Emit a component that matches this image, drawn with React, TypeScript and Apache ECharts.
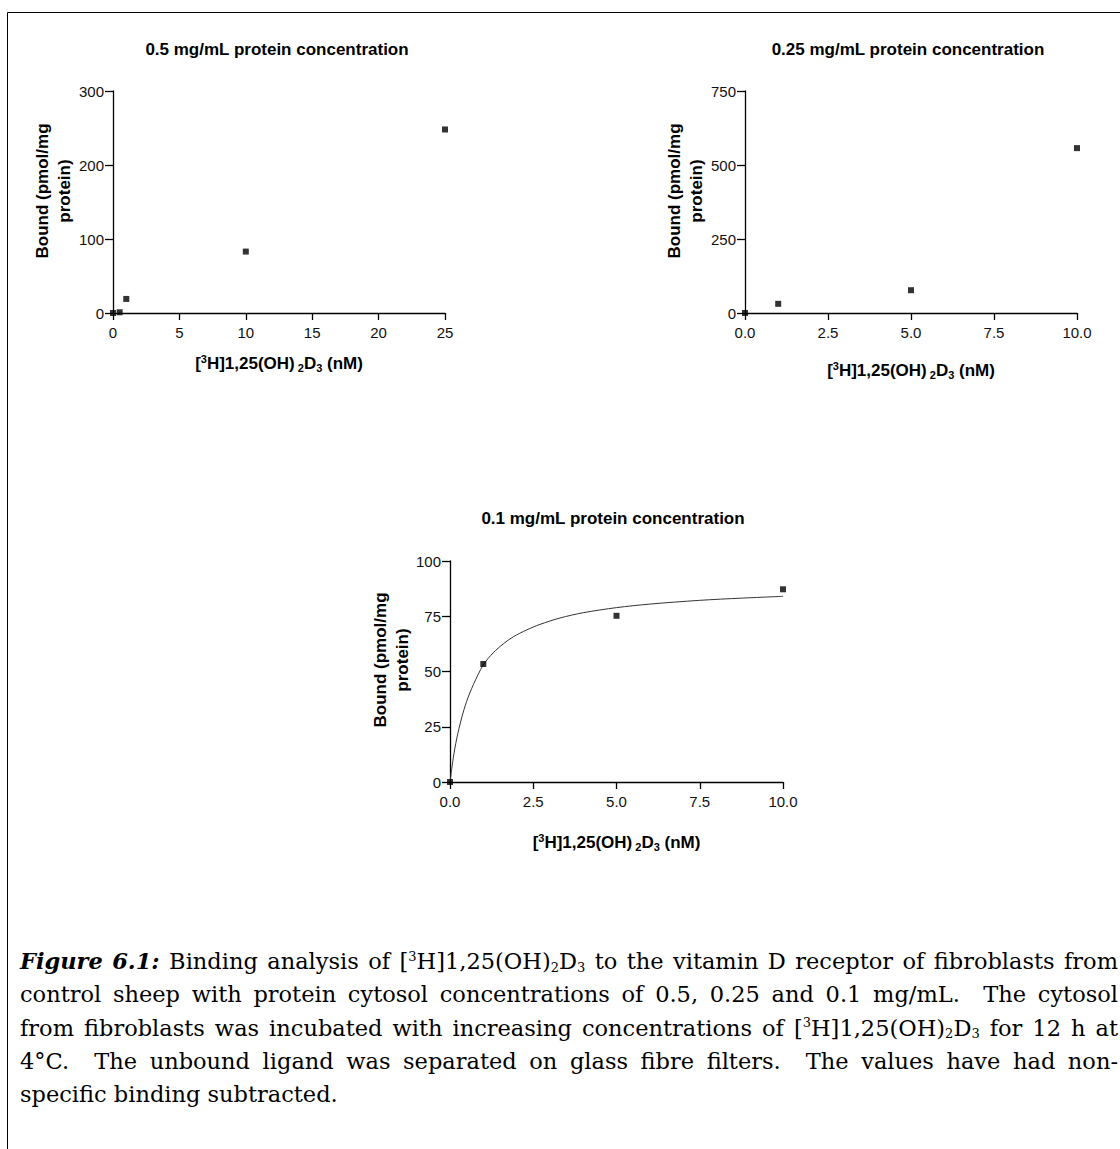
import React, { useEffect, useRef } from 'react';
import * as echarts from 'echarts';

// ---------- data ----------
const TITLES = [
  '0.5 mg/mL protein concentration',
  '0.25 mg/mL protein concentration',
  '0.1 mg/mL protein concentration',
];
const Y_NAME = 'Bound (pmol/mg\nprotein)';
const X_NAME = '[{sup|3}H]1,25(OH){s2|2}D{sub|3} (nM)';

// 0.5 mg/mL
const X_05 = [0, 0.5, 1, 10, 25];
const Y_05 = [0, 1, 19, 83, 248];
const X_TICKS_05 = [0, 5, 10, 15, 20, 25];
const Y_TICKS_05 = [0, 100, 200, 300];

// 0.25 mg/mL
const X_025 = [0, 1, 5, 10];
const Y_025 = [0, 31, 77, 557];
const X_TICKS_025 = [0, 2.5, 5, 7.5, 10];
const Y_TICKS_025 = [0, 250, 500, 750];

// 0.1 mg/mL
const X_01 = [0, 1, 5, 10];
const Y_01 = [0, 53.4, 75.2, 87.2];
const X_TICKS_01 = [0, 2.5, 5, 7.5, 10];
const Y_TICKS_01 = [0, 25, 50, 75, 100];
// fitted curve
const FIT_X_01 = [0, 0.1, 0.2, 0.35, 0.5, 0.7, 1, 1.3, 1.6, 1.9, 2.3, 2.7, 3.3, 4, 5, 6, 7.5, 8.75, 10];
const FIT_Y_01 = [0, 11, 19.5, 29, 36.5, 44, 53, 58.5, 62.5, 65.7, 68.8, 71.3, 74.2, 76.6, 78.9, 80.5, 82.2, 83.2, 84];

const CAPTION = [
  '{bi|Figure} {bi|6.1:} Binding analysis of [{sup|3}H]1,25(OH){sub|2}D{sub|3} to the vitamin D receptor of fibroblasts from',
  'control sheep with protein cytosol concentrations of 0.5, 0.25 and 0.1 mg/mL.  The cytosol',
  'from fibroblasts was incubated with increasing concentrations of [{sup|3}H]1,25(OH){sub|2}D{sub|3} for 12 h at',
  '4°C.  The unbound ligand was separated on glass fibre filters.  The values have had non-',
  'specific binding subtracted.',
];

// ---------- helpers ----------
const SANS = '"Liberation Sans", Arial, sans-serif';
const SERIF = 'DejaVu Serif';
const CAP_SIZE = 22.5;
const CAP_CENTRAL = 0.346;

type RunStyle = { size: number; style: string; weight: string; dy: number };
const RUN_STYLES: Record<string, RunStyle> = {
  n: { size: CAP_SIZE, style: 'normal', weight: 'normal', dy: 0 },
  bi: { size: CAP_SIZE, style: 'italic', weight: 'bold', dy: 0 },
  sup: { size: 13, style: 'normal', weight: 'normal', dy: -8 },
  sub: { size: 13, style: 'normal', weight: 'normal', dy: 3 },
};

function parseRuns(word: string) {
  const out: { k: string; t: string }[] = [];
  const re = /\{(\w+)\|([^}]*)\}|([^{]+)/g;
  let m: RegExpExecArray | null;
  while ((m = re.exec(word))) {
    if (m[1]) out.push({ k: m[1], t: m[2] });
    else out.push({ k: 'n', t: m[3] });
  }
  return out;
}

function buildCaption(): any[] {
  const canvas = document.createElement('canvas');
  const ctx = canvas.getContext('2d')!;
  const fontOf = (s: RunStyle) => `${s.style} ${s.weight} ${s.size}px "${SERIF}"`;
  const measure = (k: string, t: string) => {
    ctx.font = fontOf(RUN_STYLES[k]);
    return ctx.measureText(t).width;
  };
  const x0 = 20;
  const x1 = 1118;
  const base0 = 969;
  const lh = 33.2;
  const els: any[] = [];
  CAPTION.forEach((line, li) => {
    const words = line.split(' ').map((w) => {
      const runs = parseRuns(w);
      const widths = runs.map((r) => measure(r.k, r.t));
      return { runs, widths, w: widths.reduce((a, b) => a + b, 0) };
    });
    const total = words.reduce((a, b) => a + b.w, 0);
    const gaps = words.length - 1;
    const justify = li < CAPTION.length - 1;
    const gap = justify && gaps > 0 ? (x1 - x0 - total) / gaps : measure('n', ' ');
    const baseline = base0 + li * lh;
    let x = x0;
    words.forEach((wd) => {
      wd.runs.forEach((r, ri) => {
        const s = RUN_STYLES[r.k];
        els.push({
          type: 'text',
          x,
          y: baseline + s.dy - CAP_CENTRAL * s.size,
          silent: true,
          style: {
            text: r.t,
            fontSize: s.size,
            fontFamily: SERIF,
            fontStyle: s.style,
            fontWeight: s.weight,
            fill: '#000',
            align: 'left',
            verticalAlign: 'middle',
          },
        });
        x += wd.widths[ri];
      });
      x += gap;
    });
  });
  return els;
}

const PANELS = [
  { left: 113, top: 91, width: 332, height: 222, title: [277, 49], yName: [53, 191], xGap: 40, xs: X_05, ys: Y_05, xt: X_TICKS_05, yt: Y_TICKS_05, dec: 0 },
  { left: 745, top: 91, width: 332, height: 222, title: [908, 49], yName: [685, 191], xGap: 47, xs: X_025, ys: Y_025, xt: X_TICKS_025, yt: Y_TICKS_025, dec: 1 },
  { left: 450, top: 561, width: 333, height: 221, title: [613, 518], yName: [391, 660], xGap: 50, xs: X_01, ys: Y_01, xt: X_TICKS_01, yt: Y_TICKS_01, dec: 1 },
];

function axisRange(t: number[]) {
  return { min: t[0], max: t[t.length - 1], interval: t[1] - t[0] };
}

export default function App() {
  const ref = useRef<HTMLDivElement>(null);
  useEffect(() => {
    document.body.style.margin = '0';
    const chart = echarts.init(ref.current!, null, { renderer: 'svg' });
    const axisLine = { show: true, onZero: false, lineStyle: { color: '#000', width: 1.3 } };
    const labelStyle = { fontSize: 15, fontFamily: SANS, color: '#111' };
    const grid = PANELS.map((p) => ({ left: p.left, top: p.top, width: p.width, height: p.height, containLabel: false }));
    const xAxis = PANELS.map((p, i) => ({
      type: 'value',
      gridIndex: i,
      ...axisRange(p.xt),
      axisLine,
      axisTick: { show: true, length: 7, lineStyle: { color: '#000', width: 1.3 } },
      axisLabel: { ...labelStyle, margin: 12, formatter: (v: number) => v.toFixed(p.dec) },
      splitLine: { show: false },
      name: X_NAME,
      nameLocation: 'middle',
      nameGap: p.xGap,
      nameTextStyle: {
        fontSize: 17,
        fontWeight: 'bold',
        fontFamily: SANS,
        color: '#000',
        lineHeight: 20,
        rich: {
          sup: { fontSize: 11, fontWeight: 'bold', fontFamily: SANS, color: '#000', verticalAlign: 'top', lineHeight: 20 },
          s2: { fontSize: 11, fontWeight: 'bold', fontFamily: SANS, color: '#000', verticalAlign: 'bottom', lineHeight: 20, padding: [0, 0, 0, 3] },
          sub: { fontSize: 11, fontWeight: 'bold', fontFamily: SANS, color: '#000', verticalAlign: 'bottom', lineHeight: 20 },
        },
      },
    }));
    const yAxis = PANELS.map((p, i) => ({
      type: 'value',
      gridIndex: i,
      ...axisRange(p.yt),
      axisLine,
      axisTick: { show: true, length: 8, lineStyle: { color: '#000', width: 1.3 } },
      axisLabel: { ...labelStyle, margin: 9 },
      splitLine: { show: false },
    }));
    const series: any[] = PANELS.map((p, i) => ({
      type: 'scatter',
      xAxisIndex: i,
      yAxisIndex: i,
      symbol: 'rect',
      symbolSize: 6,
      itemStyle: { color: '#000' },
      clip: false,
      z: 3,
      data: p.xs.map((x, j) => [x, p.ys[j]]),
    }));
    series.push({
      type: 'line',
      xAxisIndex: 2,
      yAxisIndex: 2,
      showSymbol: false,
      smooth: 0.3,
      clip: false,
      lineStyle: { color: '#333', width: 1 },
      z: 2,
      data: FIT_X_01.map((x, j) => [x, FIT_Y_01[j]]),
    });

    const graphic: any[] = [];
    PANELS.forEach((p, i) => {
      graphic.push({
        type: 'text',
        x: p.title[0],
        y: p.title[1],
        silent: true,
        style: { text: TITLES[i], fontSize: 17, fontWeight: 'bold', fontFamily: SANS, fill: '#000', align: 'center', verticalAlign: 'middle' },
      });
      graphic.push({
        type: 'text',
        x: p.yName[0],
        y: p.yName[1],
        rotation: Math.PI / 2,
        silent: true,
        style: { text: Y_NAME, fontSize: 17, fontWeight: 'bold', fontFamily: SANS, fill: '#000', align: 'center', verticalAlign: 'middle', lineHeight: 22 },
      });
    });
    graphic.push({ type: 'line', silent: true, shape: { x1: 7.5, y1: 12.5, x2: 1120, y2: 12.5 }, style: { stroke: '#000', lineWidth: 1 } });
    graphic.push({ type: 'line', silent: true, shape: { x1: 7.5, y1: 12.5, x2: 7.5, y2: 1149 }, style: { stroke: '#000', lineWidth: 1 } });
    graphic.push(...buildCaption());

    chart.setOption({
      animation: false,
      backgroundColor: '#fff',
      grid,
      xAxis,
      yAxis,
      series,
      graphic,
    });
    return () => chart.dispose();
  }, []);
  return <div ref={ref} style={{ width: 1120, height: 1149 }} />;
}
